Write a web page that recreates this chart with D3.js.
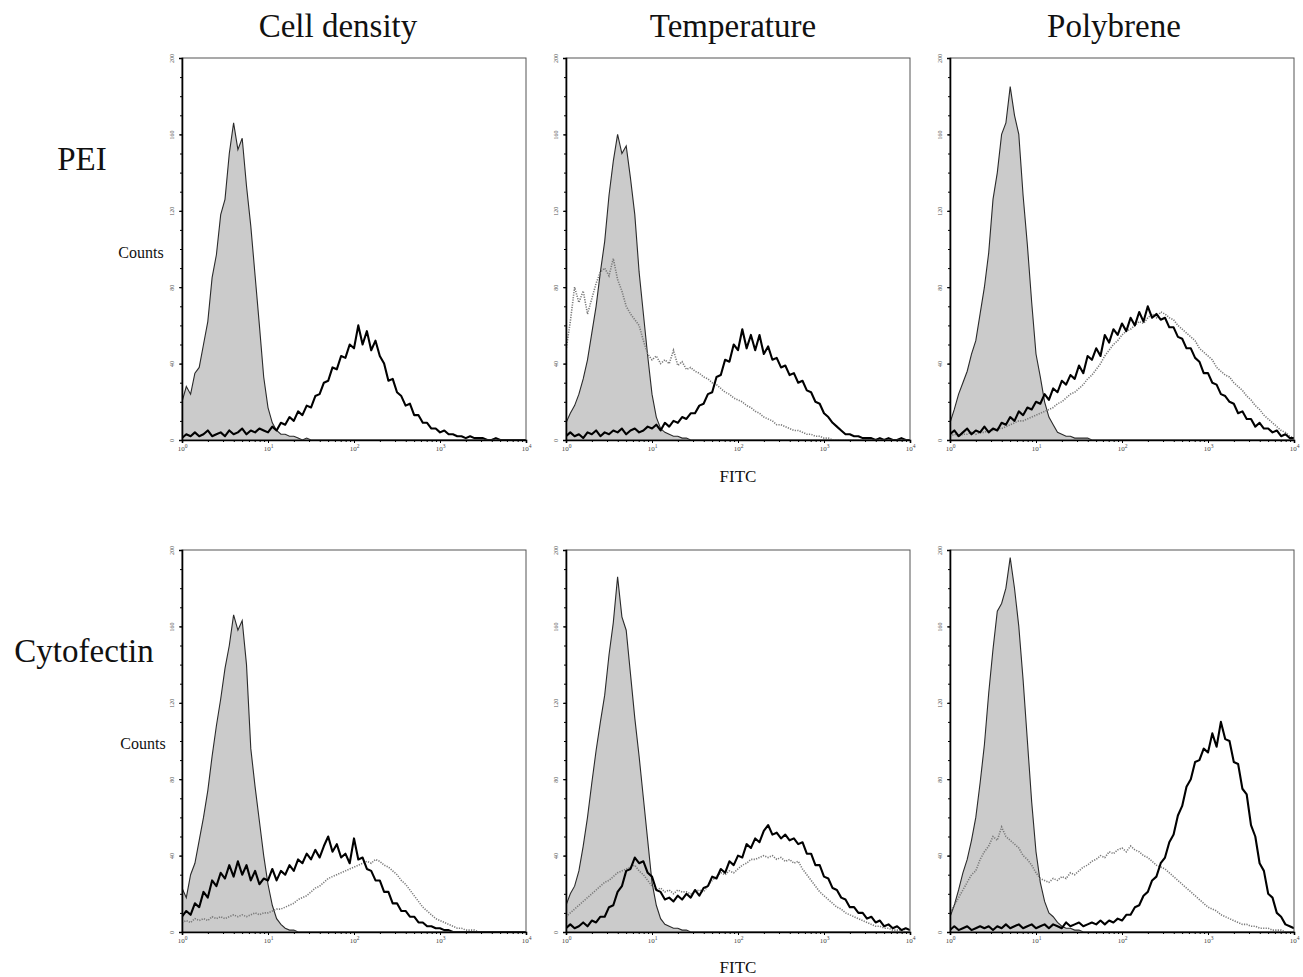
<!DOCTYPE html>
<html>
<head>
<meta charset="utf-8">
<script src="https://cdn.jsdelivr.net/npm/d3@7"></script>
<style>
  html, body { margin: 0; padding: 0; background: #fff; }
  svg { display: block; }
  text { font-family: "Liberation Serif", "Times New Roman", serif; }
</style>
</head>
<body>
<svg id="chart" width="1303" height="977"></svg>
<script>
// ---------------- DATA ----------------
const columnTitles = ["Cell density", "Temperature", "Polybrene"];
const rowLabels = ["PEI", "Cytofectin"];
const yTickValues = [0, 40, 80, 120, 160, 200];
const xTickExponents = [0, 1, 2, 3, 4];
const binsPerDecade = 20; // histogram bins: 81 bins from 10^0 to 10^4

// PEI / Cell density
const peiCellControl = [20,28,24,35,38,50,62,85,97,118,126,150,166,152,158,133,112,86,60,33,17,9,5,3,3,2,2,1,0,1,0,0,0,0,0,0,0,0,0,0,0,0,0,0,0,0,0,0,0,0,0,0,0,0,0,0,0,0,0,0,0,0,0,0,0,0,0,0,0,0,0,0,0,0,0,0,0,0,0,0,0];
const peiCellSample = [1,3,2,4,2,3,5,2,3,4,2,5,3,4,6,3,5,4,6,5,4,7,5,9,8,12,10,15,13,18,17,23,24,30,31,38,37,44,43,50,48,60,50,57,47,52,44,40,31,32,25,23,18,19,13,13,9,9,6,6,4,5,3,3,2,2,1,2,1,1,1,0,0,1,0,0,0,0,0,0,0];
// PEI / Temperature
const peiTempControl = [9,14,18,24,32,42,56,70,88,104,128,146,160,150,154,137,118,88,66,44,24,12,6,4,3,2,2,1,1,0,0,0,0,0,0,0,0,0,0,0,0,0,0,0,0,0,0,0,0,0,0,0,0,0,0,0,0,0,0,0,0,0,0,0,0,0,0,0,0,0,0,0,0,0,0,0,0,0,0,0,0];
const peiTempSample = [2,4,2,3,1,4,3,5,2,4,3,5,4,6,3,5,6,4,5,7,6,8,5,9,7,10,9,12,11,14,14,18,19,24,25,33,34,42,41,50,47,58,48,55,47,55,45,49,42,43,38,39,34,35,30,31,26,25,20,19,14,12,9,7,5,3,3,2,2,1,1,1,0,1,0,1,0,0,1,0,0];
const peiTempAlt = [47,62,80,72,78,66,74,82,88,90,86,95,84,78,70,66,63,60,52,45,42,44,40,42,40,47,39,41,37,38,36,35,33,32,30,29,27,25,24,22,21,20,18,17,15,14,12,11,10,8,8,7,6,5,5,4,3,3,2,2,1,1,0,0,0,0,0,0,0,0,0,0,0,0,0,0,0,0,0,0,0];
// PEI / Polybrene
const peiPolyControl = [9,16,24,30,36,45,52,66,80,98,126,140,160,166,185,170,160,128,102,72,45,33,20,12,8,4,3,2,2,1,1,1,1,0,0,0,0,0,0,0,0,0,0,0,0,0,0,0,0,0,0,0,0,0,0,0,0,0,0,0,0,0,0,0,0,0,0,0,0,0,0,0,0,0,0,0,0,0,0,0,0];
const peiPolySample = [3,5,2,4,6,3,5,4,7,4,6,5,9,8,12,10,15,13,17,16,20,19,24,21,27,25,31,29,34,32,39,35,44,42,48,44,55,51,58,55,61,57,64,60,67,62,70,64,66,63,64,59,59,54,53,48,48,43,41,35,35,30,29,24,23,20,19,14,15,11,11,7,9,6,6,4,5,2,3,1,1];
const peiPolyAlt = [2,3,2,3,3,4,3,4,4,5,5,6,6,7,8,9,10,10,11,12,13,14,15,16,17,19,20,22,24,25,27,29,32,34,37,40,44,47,50,52,55,57,58,60,62,61,64,66,64,67,66,64,63,60,58,56,54,52,48,46,44,42,38,36,34,33,30,28,26,23,21,18,16,13,11,9,7,5,4,2,1];
// Cytofectin / Cell density
const cytoCellControl = [23,18,30,36,48,60,74,92,108,122,138,150,166,158,163,140,96,76,58,40,25,14,7,4,2,1,1,0,0,0,0,0,0,0,0,0,0,0,0,0,0,0,0,0,0,0,0,0,0,0,0,0,0,0,0,0,0,0,0,0,0,0,0,0,0,0,0,0,0,0,0,0,0,0,0,0,0,0,0,0,0];
const cytoCellSample = [8,11,9,15,13,21,18,27,24,31,28,35,29,37,30,35,27,32,25,28,27,33,27,32,30,35,32,38,36,41,38,43,39,45,50,42,46,39,41,36,49,38,39,33,32,27,27,21,21,15,15,11,11,8,8,5,5,3,3,2,2,1,1,0,0,0,0,0,0,0,0,0,0,0,0,0,0,0,0,0,0];
const cytoCellAlt = [5,6,5,7,6,7,6,8,7,8,7,8,9,8,9,8,9,10,9,10,10,11,12,12,13,14,15,17,18,19,21,23,24,26,28,29,30,31,32,33,34,35,36,37,36,38,37,35,34,32,30,27,25,22,19,16,13,11,9,7,6,5,4,3,2,2,1,1,1,0,0,0,0,0,0,0,0,0,0,0,0];
// Cytofectin / Temperature
const cytoTempControl = [14,20,24,32,45,60,78,95,110,124,145,162,186,165,158,135,112,92,70,48,26,14,7,4,3,2,2,1,1,0,0,0,0,0,0,0,0,0,0,0,0,0,0,0,0,0,0,0,0,0,0,0,0,0,0,0,0,0,0,0,0,0,0,0,0,0,0,0,0,0,0,0,0,0,0,0,0,0,0,0,0];
const cytoTempSample = [2,4,2,3,5,3,6,5,8,8,13,14,21,24,32,33,39,36,37,31,29,22,21,17,18,16,19,17,20,18,22,19,23,24,29,28,33,31,37,35,40,39,46,44,49,47,53,56,51,52,49,51,48,49,46,47,41,41,35,35,29,28,23,22,18,17,13,13,10,10,7,8,5,6,3,4,2,3,1,2,1];
const cytoTempAlt = [8,10,12,14,16,18,20,22,24,26,27,29,31,32,33,34,35,32,30,27,24,22,23,21,22,20,22,21,21,20,21,22,21,24,27,29,31,30,32,31,33,35,36,38,38,39,40,39,40,38,39,37,38,36,37,33,30,27,24,21,19,17,15,13,12,10,9,8,7,6,5,4,3,3,2,2,1,1,1,0,0];
// Cytofectin / Polybrene
const cytoPolyControl = [8,14,22,31,38,48,60,78,98,125,148,168,172,180,196,180,160,132,100,68,42,26,16,10,8,5,3,2,2,1,1,0,0,0,0,0,0,0,0,0,0,0,0,0,0,0,0,0,0,0,0,0,0,0,0,0,0,0,0,0,0,0,0,0,0,0,0,0,0,0,0,0,0,0,0,0,0,0,0,0,0];
const cytoPolySample = [1,3,1,2,3,1,2,3,2,3,1,3,2,4,2,3,4,2,3,4,2,3,4,2,4,3,2,5,3,4,5,3,4,5,4,6,4,6,5,7,6,9,9,13,14,19,21,27,29,36,39,47,51,61,66,76,80,89,90,96,94,104,97,110,101,100,89,88,75,72,56,50,36,32,20,18,10,8,4,3,2];
const cytoPolyAlt = [10,14,18,22,26,30,32,38,42,45,50,48,55,50,48,46,44,40,38,35,31,28,27,26,28,27,29,28,31,30,32,34,35,37,38,40,39,42,41,43,44,42,45,43,42,40,39,37,35,34,33,31,29,27,25,23,21,19,17,15,13,12,11,9,8,7,6,5,4,4,3,3,2,2,2,1,1,1,0,0,0];

// Table built from the named arrays above
const panelTable = [
  { row: 0, col: 0, control: peiCellControl, sample: peiCellSample, alt: null },
  { row: 0, col: 1, control: peiTempControl, sample: peiTempSample, alt: peiTempAlt },
  { row: 0, col: 2, control: peiPolyControl, sample: peiPolySample, alt: peiPolyAlt },
  { row: 1, col: 0, control: cytoCellControl, sample: cytoCellSample, alt: cytoCellAlt },
  { row: 1, col: 1, control: cytoTempControl, sample: cytoTempSample, alt: cytoTempAlt },
  { row: 1, col: 2, control: cytoPolyControl, sample: cytoPolySample, alt: cytoPolyAlt }
];

// ---------------- LAYOUT ----------------
const colLeft = [182, 566, 950];
const titleCenters = [338, 733, 1114];
const rowTop = [58, 550];
const pw = 344, ph = 382;

const svg = d3.select("#chart");

const x = d3.scaleLog().domain([1, 1e4]).range([0, pw]);
const y = d3.scaleLinear().domain([0, 200]).range([ph, 0]);
const binX = i => Math.pow(10, i / binsPerDecade);

const line = d3.line().x((d, i) => x(binX(i))).y(d => y(d));
const area = d3.area().x((d, i) => x(binX(i))).y0(ph).y1(d => y(d));

const xMinor = [];
for (let e = 0; e < 4; e++) for (let m = 2; m <= 9; m++) xMinor.push(m * Math.pow(10, e));
const yMinor = d3.range(0, 201, 10);

panelTable.forEach(p => {
  const g = svg.append("g").attr("transform", `translate(${colLeft[p.col]},${rowTop[p.row]})`);
  const clipId = `clip-${p.row}-${p.col}`;
  g.append("clipPath").attr("id", clipId).append("rect").attr("width", pw).attr("height", ph);
  const plot = g.append("g").attr("clip-path", `url(#${clipId})`);

  plot.append("path").datum(p.control).attr("d", area)
    .attr("fill", "#cbcbcb").attr("stroke", "none");
  plot.append("path").datum(p.control).attr("d", line)
    .attr("fill", "none").attr("stroke", "#2a2a2a").attr("stroke-width", 1.1);
  if (p.alt) {
    plot.append("path").datum(p.alt).attr("d", line)
      .attr("fill", "none").attr("stroke", "#7a7a7a").attr("stroke-width", 1.6)
      .attr("stroke-dasharray", "1.2,1.3");
  }
  plot.append("path").datum(p.sample).attr("d", line)
    .attr("fill", "none").attr("stroke", "#000").attr("stroke-width", 2.1)
    .attr("stroke-linejoin", "round");

  g.append("rect").attr("width", pw).attr("height", ph)
    .attr("fill", "none").attr("stroke", "#555").attr("stroke-width", 1);

  const xa = g.append("g").attr("transform", `translate(0,${ph})`)
    .call(d3.axisBottom(x).tickValues(xTickExponents.map(e => Math.pow(10, e))).tickSize(3).tickPadding(3).tickFormat(""));
  xa.select(".domain").attr("stroke", "#000").attr("stroke-width", 1.6);
  xa.selectAll(".tick text").each(function(d) {
    const t = d3.select(this);
    t.attr("font-size", 7).attr("fill", "#444");
    t.text("10");
    t.append("tspan").attr("dy", "-0.5em").attr("font-size", "5.5").text(Math.round(Math.log10(d)));
  });
  g.append("g").attr("transform", `translate(0,${ph})`)
    .call(d3.axisBottom(x).tickValues(xMinor).tickSize(2).tickFormat(""))
    .call(s => s.select(".domain").remove());

  const ya = g.append("g")
    .call(d3.axisLeft(y).tickValues(yTickValues).tickSize(3).tickPadding(2));
  ya.select(".domain").attr("stroke", "#000").attr("stroke-width", 1.6);
  ya.selectAll(".tick text")
    .attr("font-size", 6).attr("fill", "#555")
    .attr("text-anchor", "middle")
    .attr("x", 0).attr("y", 0).attr("dx", 0).attr("dy", 0)
    .attr("transform", "translate(-8,0) rotate(-90)");
  g.append("g").call(d3.axisLeft(y).tickValues(yMinor).tickSize(2).tickFormat(""))
    .call(s => s.select(".domain").remove());
});

columnTitles.forEach((t, i) => {
  svg.append("text").attr("x", titleCenters[i]).attr("y", 37)
    .attr("text-anchor", "middle").attr("font-size", 33).attr("fill", "#111").text(t);
});
svg.append("text").attr("x", 82).attr("y", 170).attr("text-anchor", "middle")
  .attr("font-size", 33).attr("fill", "#111").text(rowLabels[0]);
svg.append("text").attr("x", 84).attr("y", 662).attr("text-anchor", "middle")
  .attr("font-size", 33).attr("fill", "#111").text(rowLabels[1]);
svg.append("text").attr("x", 141).attr("y", 258).attr("text-anchor", "middle")
  .attr("font-size", 16).attr("fill", "#111").text("Counts");
svg.append("text").attr("x", 143).attr("y", 749).attr("text-anchor", "middle")
  .attr("font-size", 16).attr("fill", "#111").text("Counts");
svg.append("text").attr("x", 738).attr("y", 482).attr("text-anchor", "middle")
  .attr("font-size", 17).attr("fill", "#111").text("FITC");
svg.append("text").attr("x", 738).attr("y", 973).attr("text-anchor", "middle")
  .attr("font-size", 17).attr("fill", "#111").text("FITC");
</script>
</body>
</html>
